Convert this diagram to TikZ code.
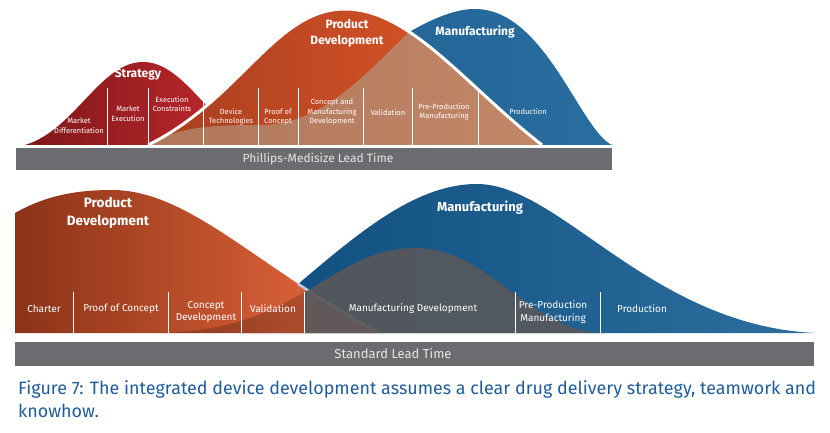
\documentclass[tikz,border=0pt]{standalone}
\usepackage{fontspec}
\setmainfont{Fira Sans}

\definecolor{stratL}{HTML}{7F1719}
\definecolor{stratR}{HTML}{C72A30}
\definecolor{pdL}{HTML}{A83D1F}
\definecolor{pdR}{HTML}{E55B2A}
\definecolor{mdL}{HTML}{B0775B}
\definecolor{mdR}{HTML}{C68A6B}
\definecolor{mfgL}{HTML}{1D5D8F}
\definecolor{mfgR}{HTML}{2A6D9F}
\definecolor{pdBL}{HTML}{8B3317}
\definecolor{pdBR}{HTML}{EC6B40}
\definecolor{mfgBL}{HTML}{0E4D7E}
\definecolor{mfgBR}{HTML}{2E6F9F}
\definecolor{mdgray}{HTML}{57585C}
\definecolor{barcol}{HTML}{6B6C6F}
\definecolor{captionblue}{HTML}{1F5C99}
\definecolor{seplight}{HTML}{B7CEE0}

\tikzset{
	stagelbl/.style = {text=white, align=center, inner sep=0pt, font=\fontsize{7.5}{9.7}\selectfont},
	stagelblB/.style = {stagelbl, font=\fontsize{10}{12.7}\selectfont},
	phasename/.style = {text=white, align=center, inner sep=0pt, font=\bfseries\fontsize{12}{16}\selectfont},
	phasenameB/.style = {phasename, font=\bfseries\fontsize{13.5}{17.7}\selectfont},
	divider/.style = {white, line width=0.9pt},
	leadtext/.style = {text=white!90!black, inner sep=0pt}
}

\begin{document}
\begin{tikzpicture}[x=1pt, y=-1pt]
			\useasboundingbox (0,0) rectangle (830,433);

			% top chart: Phillips-Medisize
			\def\stratbell{(25,145) .. controls (75,130) and (100,62) .. (143,62) .. controls (186,62) and (211,130) .. (261,145) -- cycle}
			\def\pdtop{(148,145) .. controls (240,100) and (275,9) .. (345,9) .. controls (410,9) and (465,85) .. (542,145)}
			\def\mfgbell{(150,145) .. controls (300,140) and (400,9) .. (475,9) .. controls (545,9) and (580,130) .. (612,145) -- cycle}
			\def\mdarea{(150,145) .. controls (175,128) and (205,125) .. (260,125) .. controls (320,125) and (360,80) .. (413,28) -- (440,0) -- (620,0) -- (620,145) -- cycle}

			\begin{scope}
				\shade [left color = mfgL, right color = mfgR] \mfgbell;
				\shade [left color = stratL, right color = stratR] \stratbell;
				\shade [left color = pdL, right color = pdR] \pdtop -- cycle;
			\end{scope}

			\begin{scope}
				\clip \pdtop -- cycle;
				\shade [left color = mdL, right color = mdR] \mdarea;
			\end{scope}

			\draw [white, line width = 3pt] \pdtop;

			\foreach \x in {107, 148, 203, 258, 298, 363, 412, 478}
				\draw [divider] (\x,88) -- (\x,145);

			\fill [white] (10,145) rectangle (620,148);
			\fill [barcol] (16,148) rectangle (612,170);

			\node [phasename] (strategy) at (138,75) {Strategy};
			\node [phasename] (pdtitle) at (347,33) {Product\\Development};
			\node [phasename] (mfgtitle) at (475,32) {Manufacturing};

			\node [stagelbl] (mktdiff) at (79,126) {Market\\Differentiation};
			\node [stagelbl] (mktexec) at (128,114) {Market\\Execution};
			\node [stagelbl] (execcon) at (172,104) {Execution\\Constraints};
			\node [stagelbl] (devtech) at (231,117) {Device\\Technologies};
			\node [stagelbl] (poc) at (278,117) {Proof of\\Concept};
			\node [stagelbl] (conmfg) at (332,112) {Concept and\\Manufacturing\\Development};
			\node [stagelbl] (valid) at (388,113) {Validation};
			\node [stagelbl] (preprod) at (444,112) {Pre-Production\\Manufacturing};
			\node [stagelbl] (prod) at (528,112) {Production};

			\node [leadtext, font=\fontsize{12}{14}\selectfont] (pmlead) at (318,159) {Phillips-Medisize Lead Time};

			% bottom chart: standard
			\def\pdtopB{(15,213) .. controls (45,196) and (75,190) .. (112,190) .. controls (190,190) and (260,270) .. (380,333)}
			\def\mfgbellB{(240,333) .. controls (330,260) and (400,184) .. (477,184) .. controls (560,184) and (650,325) .. (815,333) -- cycle}
			\def\mdbellB{(155,333) .. controls (300,333) and (330,248) .. (415,248) .. controls (490,248) and (530,333) .. (605,333) -- cycle}

			\shade [left color = mfgBL, right color = mfgBR] \mfgbellB;
			\shade [left color = pdBL, right color = pdBR] (15,333) -- \pdtopB -- cycle;

			\begin{scope}
				\clip \mfgbellB;
				\draw [seplight, line width = 2.5pt] (112,190) .. controls (190,190) and (260,270) .. (380,333);
			\end{scope}

			\begin{scope}
				\clip (0,0) rectangle (304,340);
				\fill [black, opacity = 0.2] \mdbellB;
			\end{scope}
			\begin{scope}
				\clip (304,0) rectangle (830,340);
				\fill [mdgray, opacity = 0.93] \mdbellB;
			\end{scope}

			\foreach \x in {73, 168, 241, 304, 515, 600}
				\draw [divider] (\x,292) -- (\x,333);

			\fill [barcol] (15,342) rectangle (814,366);

			\node [phasenameB] (pdtitleB) at (108,213) {Product\\Development};
			\node [phasenameB, font=\bfseries\fontsize{13}{16}\selectfont] (mfgtitleB) at (480,208) {Manufacturing};

			\node [stagelblB] (charter) at (44,309) {Charter};
			\node [stagelblB] (pocB) at (121,309) {Proof of Concept};
			\node [stagelblB] (condev) at (206,312) {Concept\\Development};
			\node [stagelblB] (validB) at (273,309) {Validation};
			\node [stagelblB] (mfgdev) at (413,309) {Manufacturing Development};
			\node [stagelblB] (preprodB) at (553,312) {Pre-Production\\Manufacturing};
			\node [stagelblB] (prodB) at (642,309) {Production};

			\node [leadtext, font=\fontsize{13}{15}\selectfont] (stdlead) at (393,354) {Standard Lead Time};

			% caption
			\node [anchor = north west, text = captionblue, align = left, inner sep = 0pt,
				font = \fontsize{17.9}{23}\selectfont] (caption) at (18,380)
				{Figure 7: The integrated device development assumes a clear drug delivery strategy, teamwork and\\knowhow.};
		\end{tikzpicture}
\end{document}
